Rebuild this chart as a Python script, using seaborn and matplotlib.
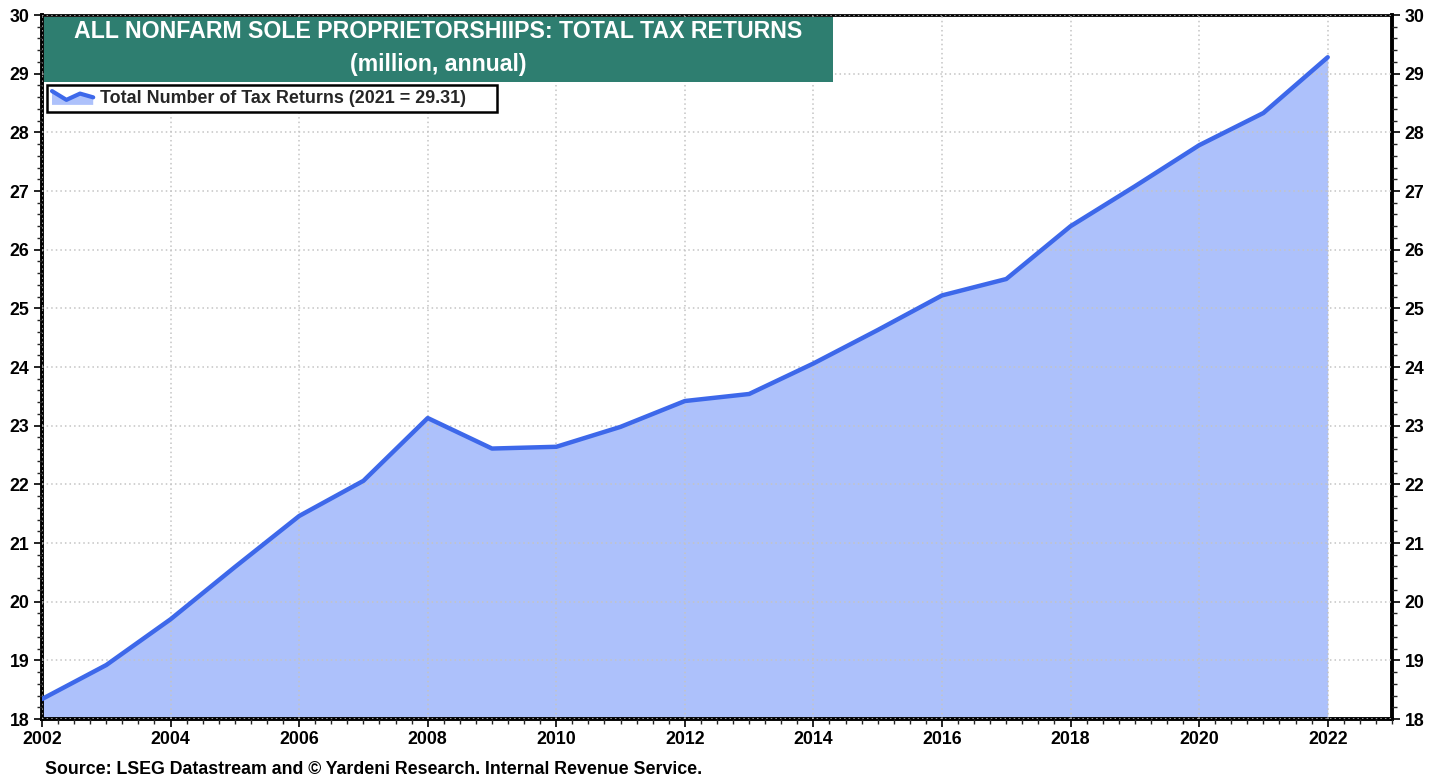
import matplotlib
matplotlib.use("Agg")
import matplotlib.pyplot as plt
import seaborn as sns
import pandas as pd
import numpy as np
from matplotlib.ticker import MultipleLocator
from matplotlib.patches import Rectangle
from matplotlib.lines import Line2D
from matplotlib.legend_handler import HandlerBase

years = [2002, 2003, 2004, 2005, 2006, 2007, 2008, 2009, 2010, 2011, 2012,
         2013, 2014, 2015, 2016, 2017, 2018, 2019, 2020, 2021, 2022]
returns = [18.34, 18.92, 19.70, 20.59, 21.46, 22.06, 23.13, 22.61, 22.64, 22.98, 23.42,
           23.54, 24.06, 24.63, 25.22, 25.50, 26.40, 27.08, 27.78, 28.33, 29.28]
title_lines = ["ALL NONFARM SOLE PROPRIETORSHIIPS: TOTAL TAX RETURNS", "(million, annual)"]
legend_label = "Total Number of Tax Returns (2021 = 29.31)"
source = "Source: LSEG Datastream and \u00a9 Yardeni Research. Internal Revenue Service."

df = pd.DataFrame({"year": years, "value": returns})

sns.set_theme(style="white")
plt.rcParams['font.family'] = ['Liberation Sans', 'DejaVu Sans']
plt.rcParams['font.weight'] = 'bold'

LINE = "#3d68ea"
FILL = "#adc1fb"
W, H = 1442, 780

fig = plt.figure(figsize=(W/100, H/100), dpi=100)
ax = fig.add_axes([42/W, 1-719/H, (1392-42)/W, (719-15)/H])

ax.fill_between(df["year"], df["value"], 18, color=FILL, lw=0, zorder=1)
sns.lineplot(data=df, x="year", y="value", ax=ax, color=LINE, lw=3.2, zorder=3)

ax.set_xlim(2002, 2023)
ax.set_ylim(18, 30)
ax.set_xlabel("")
ax.set_ylabel("")
ax.xaxis.set_major_locator(MultipleLocator(2))
ax.xaxis.set_minor_locator(MultipleLocator(0.25))
ax.yaxis.set_major_locator(MultipleLocator(1))
ax.yaxis.set_minor_locator(MultipleLocator(0.2))
ax.grid(True, which="major", color="#c4c4c4", linestyle=(0, (1, 2)), lw=1.1, zorder=2)
ax.set_axisbelow(False)
ax.tick_params(axis="both", which="major", direction="out", length=6, width=1.2,
               labelsize=12.8, colors="black", pad=3)
ax.tick_params(axis="both", which="minor", direction="out", length=3.5, width=1.0)
ax.tick_params(axis="y", which="both", left=True, right=True, labelleft=True, labelright=True)
ax.tick_params(axis="x", which="both", bottom=True, top=False)
ax.set_xticks(range(2002, 2023, 2))
ax.set_xticklabels([str(t) for t in range(2002, 2023, 2)])
for lbl in ax.get_xticklabels() + ax.get_yticklabels() + ax.yaxis.get_ticklabels(which="major"):
    lbl.set_fontweight("bold")
for s in ["left", "right", "bottom"]:
    ax.spines[s].set_linewidth(2.8)
    ax.spines[s].set_color("black")
ax.spines["top"].set_linewidth(2.0)
ax.spines["top"].set_color("black")

# title box
tb = Rectangle((44/W, 1-82/H), (833-44)/W, (82-17)/H, transform=fig.transFigure,
               facecolor="#2e7e70", edgecolor="none", zorder=5)
fig.patches.append(tb)
cx = (44 + 833) / 2 / W
fig.text(cx, 1-32/H, title_lines[0], ha="center", va="center", color="white",
         fontsize=16.7, fontweight="bold", zorder=6)
fig.text(cx, 1-64/H, title_lines[1], ha="center", va="center", color="white",
         fontsize=16.7, fontweight="bold", zorder=6)

# legend frame
lf = Rectangle((47/W, 1-112/H), (497-47)/W, (112-85)/H, transform=fig.transFigure,
               facecolor="white", edgecolor="black", lw=1.8, zorder=6)
fig.patches.append(lf)

class AreaHandler(HandlerBase):
    def create_artists(self, legend, orig, xd, yd, w, h, fs, trans):
        xs = np.array([0, 0.35, 0.68, 1.0]) * w - xd
        ys = np.array([0.95, 0.25, 0.75, 0.45]) * h - yd
        base = -yd - 0.15 * h
        poly = plt.Polygon(np.column_stack([np.r_[xs, xs[-1], xs[0]], np.r_[ys, base, base]]),
                           closed=True, facecolor=FILL, edgecolor="none", transform=trans)
        ln = Line2D(xs, ys, color=LINE, lw=3, transform=trans)
        return [poly, ln]

handle = Line2D([], [], color=LINE)
leg = fig.legend([handle], [legend_label], handler_map={Line2D: AreaHandler()},
                 loc="center left", bbox_to_anchor=(52/W, 1-98.5/H), frameon=False,
                 fontsize=12.9, handlelength=2.3, handletextpad=0.4, borderpad=0.0,
                 borderaxespad=0)
leg.set_zorder(7)
for t in leg.get_texts():
    t.set_fontweight("bold")

fig.text(45/W, 1-769/H, source, ha="left", va="center", fontsize=12.8,
         fontweight="bold", color="black")

fig.savefig("out.png", dpi=100)
